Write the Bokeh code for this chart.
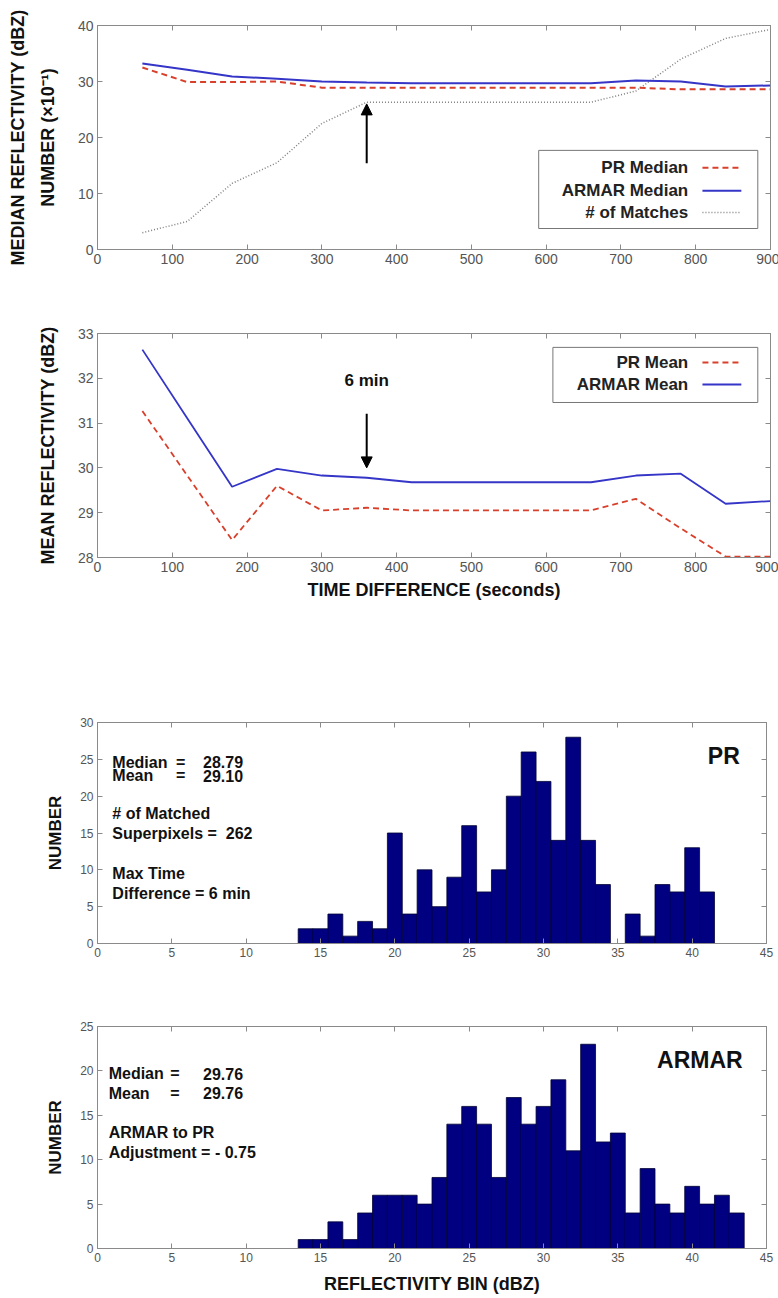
from bokeh.plotting import figure
from bokeh.layouts import column
from bokeh.models import LinearAxis, Range1d, FixedTicker, Arrow, NormalHead, CustomJSTickFormatter
from bokeh.core.properties import value
from bokeh.embed import file_html
from bokeh.resources import INLINE

# ---- time-difference series (seconds) ----
time_s = [60, 120, 180, 240, 300, 360, 420, 480, 540, 600, 660, 720, 780, 840, 900]
pr_median = [32.5, 29.9, 29.9, 30.0, 28.9, 28.9, 28.9, 28.9, 28.9, 28.9, 28.9, 28.9, 28.6, 28.6, 28.6]
armar_median = [33.2, 32.1, 30.9, 30.5, 30.0, 29.8, 29.7, 29.7, 29.7, 29.7, 29.7, 30.2, 30.0, 29.1, 29.3]
n_matches = [3.0, 5.0, 11.8, 15.5, 22.5, 26.3, 26.3, 26.3, 26.3, 26.3, 26.3, 28.3, 34.0, 37.7, 39.3]  # x10^-1
pr_mean = [31.27, 29.83, 28.39, 29.60, 29.05, 29.11, 29.05, 29.05, 29.05, 29.05, 29.05, 29.31, 28.65, 28.02, 28.02]
armar_mean = [32.64, 31.11, 29.58, 29.98, 29.83, 29.78, 29.68, 29.68, 29.68, 29.68, 29.68, 29.83, 29.87, 29.20, 29.26]

time_ticks = [0, 100, 200, 300, 400, 500, 600, 700, 800, 900]
median_ticks = [0, 10, 20, 30, 40]
mean_ticks = [28, 29, 30, 31, 32, 33]
chosen_time = 360  # 6 min window

# ---- reflectivity histograms (1 dBZ bins) ----
pr_bins = list(range(14, 42))
pr_counts = [2, 2, 4, 1, 3, 2, 15, 4, 10, 5, 9, 16, 7, 10, 20, 26, 22, 14, 28, 14, 8, 0, 4, 1, 8, 7, 13, 7]
armar_bins = list(range(14, 44))
armar_counts = [1, 1, 3, 1, 4, 6, 6, 6, 5, 8, 14, 16, 14, 8, 17, 14, 16, 19, 11, 23, 12, 13, 4, 9, 5, 4, 7, 5, 6, 4]
bin_ticks = [0, 5, 10, 15, 20, 25, 30, 35, 40, 45]
pr_count_ticks = [0, 5, 10, 15, 20, 25, 30]
armar_count_ticks = [0, 5, 10, 15, 20, 25]

FONT = "Liberation Sans"
RED = "#d8402c"
BLUE = "#3535c8"
GRAY_AX = "#8a8a8a"
BAR = "#000080"

blank = CustomJSTickFormatter(code="return ''")


def make_fig(x_rng, y_rng, xticks, yticks, top, frame_h, bottom, left, frame_w, right, tick_px, label_px):
    p = figure(output_backend="svg", toolbar_location=None,
               frame_width=frame_w, frame_height=frame_h,
               min_border_top=top, min_border_bottom=bottom,
               min_border_left=left, min_border_right=right,
               x_range=Range1d(*x_rng), y_range=Range1d(*y_rng))
    p.grid.visible = False
    p.outline_line_color = GRAY_AX
    p.below[0].ticker = FixedTicker(ticks=xticks)
    p.left[0].ticker = FixedTicker(ticks=yticks)
    p.add_layout(LinearAxis(ticker=FixedTicker(ticks=xticks), formatter=blank), "above")
    p.add_layout(LinearAxis(ticker=FixedTicker(ticks=yticks), formatter=blank), "right")
    for ax in p.axis:
        ax.axis_line_color = GRAY_AX
        ax.major_tick_line_color = GRAY_AX
        ax.major_tick_in = 5
        ax.major_tick_out = 0
        ax.minor_tick_line_color = None
        ax.major_label_text_font = FONT
        ax.major_label_text_font_size = tick_px
        ax.major_label_text_color = "#555555"
        ax.major_label_standoff = 4
        ax.axis_label_text_font = FONT
        ax.axis_label_text_font_style = "bold"
        ax.axis_label_text_font_size = label_px
        ax.axis_label_text_color = "#111111"
    p.background_fill_color = "white"
    p.border_fill_color = "white"
    return p


def draw_legend(p, box, rows, text_x, line_x0, line_x1):
    p.quad(left=[box[0]], right=[box[1]], bottom=[box[2]], top=[box[3]],
           fill_color="white", line_color="#777777", line_width=1)
    for label, y, color, dash, width in rows:
        p.text(x=[text_x], y=[y], text=[label], text_align="right", text_baseline="middle",
               text_font=value(FONT), text_font_style="bold", text_font_size="17px",
               text_color="#222222")
        p.segment(x0=[line_x0], y0=[y], x1=[line_x1], y1=[y], line_color=color,
                  line_dash=dash, line_width=width)


# ---- panel 1: medians and number of matches ----
p1 = make_fig((0, 900), (0, 40), time_ticks, median_ticks,
              25, 224, 41, 92, 673, 13, "14px", "18px")
p1.left[0].axis_label = "MEDIAN REFLECTIVITY (dBZ)\nNUMBER (\u00d710\u207b\u00b9)"
p1.left[0].axis_label_text_line_height = 1.5
p1.left[0].axis_label_standoff = 17
p1.line(time_s, n_matches, line_color="#808080", line_dash="1 2", line_width=1.5)
p1.line(time_s, armar_median, line_color=BLUE, line_width=2)
p1.line(time_s, pr_median, line_color=RED, line_dash="6 4", line_width=2)
p1.add_layout(Arrow(end=NormalHead(size=11, fill_color="black", line_color="black"),
                    x_start=chosen_time, y_start=15.4, x_end=chosen_time, y_end=26.0,
                    line_width=2, line_color="black"))
draw_legend(p1, (590, 883, 3.75, 17.7),
            [("PR Median", 14.6, RED, "6 4", 2),
             ("ARMAR Median", 10.5, BLUE, "solid", 2),
             ("# of Matches", 6.6, "#808080", "1 2", 1.5)],
            790, 809, 861)

# ---- panel 2: means ----
p2 = make_fig((0, 900), (28, 33), time_ticks, mean_ticks,
              43, 224, 83, 92, 673, 13, "14px", "18px")
p2.left[0].axis_label = "MEAN REFLECTIVITY (dBZ)"
p2.left[0].axis_label_standoff = 17
p2.below[0].axis_label = "TIME DIFFERENCE (seconds)"
p2.below[0].axis_label_standoff = 5
p2.line(time_s, armar_mean, line_color=BLUE, line_width=1.8)
p2.line(time_s, pr_mean, line_color=RED, line_dash="6 4", line_width=1.8)
p2.add_layout(Arrow(end=NormalHead(size=11, fill_color="black", line_color="black"),
                    x_start=chosen_time, y_start=31.21, x_end=chosen_time, y_end=30.0,
                    line_width=2, line_color="black"))
p2.text(x=[chosen_time], y=[31.95], text=["6 min"], text_align="center", text_baseline="middle",
        text_font=value(FONT), text_font_style="bold", text_font_size="17px", text_color="#111111")
draw_legend(p2, (609, 883, 31.46, 32.69),
            [("PR Mean", 32.35, RED, "6 4", 2),
             ("ARMAR Mean", 31.86, BLUE, "solid", 2)],
            790, 809, 861)


def text_rows(p, xs, ys, labels, align="left", size="16px"):
    p.text(x=xs, y=ys, text=labels, text_align=align, text_baseline="middle",
           text_font=value(FONT), text_font_style="bold", text_font_size=size,
           text_color="#111111")


# ---- panel 3: PR histogram ----
p3 = make_fig((0, 45), (0, 30), bin_ticks, pr_count_ticks,
              82, 221, 37, 97, 669, 12, "12px", "17px")
p3.left[0].axis_label = "NUMBER"
p3.left[0].axis_label_standoff = 12
p3.vbar(x=pr_bins, top=pr_counts, width=1, fill_color=BAR, line_color="#000033", line_width=0.8)
text_rows(p3, [1.0, 1.0], [24.6, 22.8], ["Median", "Mean"])
text_rows(p3, [5.6, 5.6], [24.6, 22.8], ["=", "="], align="center")
text_rows(p3, [7.1, 7.1], [24.6, 22.8], ["28.79", "29.10"])
text_rows(p3, [1.0, 1.0, 1.0, 1.0], [17.6, 14.9, 9.5, 6.8],
          ["# of Matched", "Superpixels =\u00a0 262", "Max Time", "Difference = 6 min"])
text_rows(p3, [43.2], [25.5], ["PR"], align="right", size="23px")

# ---- panel 4: ARMAR histogram ----
p4 = make_fig((0, 45), (0, 25), bin_ticks, armar_count_ticks,
              46, 222, 50, 97, 669, 12, "12px", "18px")
p4.left[0].axis_label = "NUMBER"
p4.left[0].axis_label_text_font_size = "17px"
p4.left[0].axis_label_standoff = 12
p4.below[0].axis_label = "REFLECTIVITY BIN (dBZ)"
p4.below[0].axis_label_standoff = 9
p4.vbar(x=armar_bins, top=armar_counts, width=1, fill_color=BAR, line_color="#000033", line_width=0.8)
text_rows(p4, [0.75, 0.75], [19.67, 17.5], ["Median", "Mean"])
text_rows(p4, [5.2, 5.2], [19.67, 17.5], ["=", "="], align="center")
text_rows(p4, [7.1, 7.1], [19.67, 17.5], ["29.76", "29.76"])
text_rows(p4, [0.75, 0.75], [13.1, 10.85], ["ARMAR to PR", "Adjustment = - 0.75"])
text_rows(p4, [43.4], [21.2], ["ARMAR"], align="right", size="23px")

layout = column(p1, p2, p3, p4, spacing=0)
open("out.html", "w").write(file_html(layout, INLINE))
